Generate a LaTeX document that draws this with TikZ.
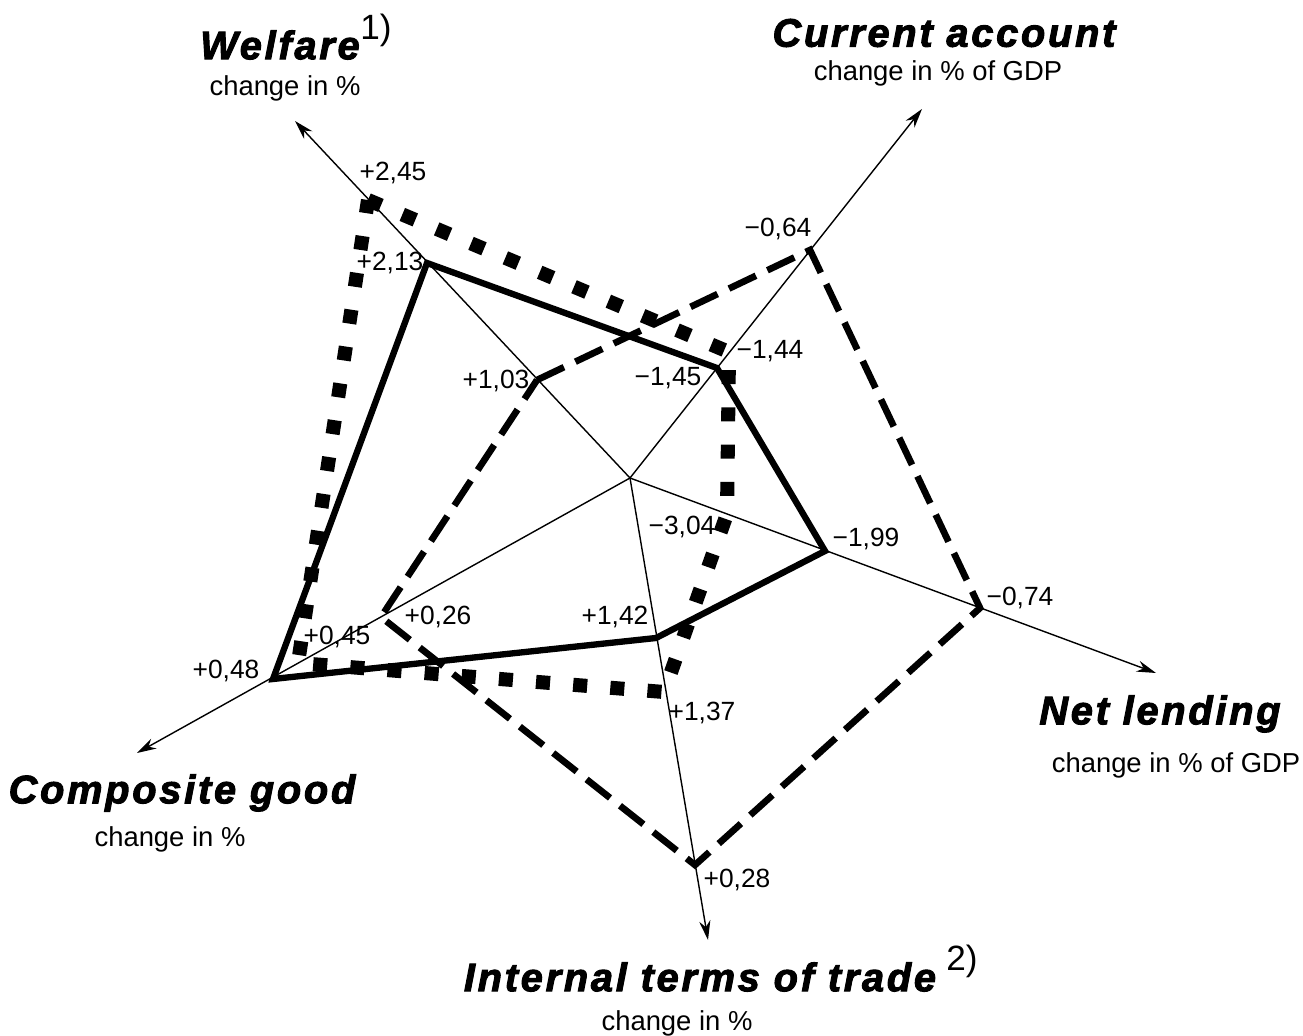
\documentclass[tikz,border=0pt]{standalone}
\usepackage{fontspec}
\setmainfont{Liberation Sans}
\newfontfamily\titlefont[FakeBold=2.5,LetterSpace=7]{Liberation Sans}
\usetikzlibrary{
    arrows.meta
}
\tikzset{
    >=Stealth,
    axis/.style={
        line width=0.4pt,
        -{Stealth[length=5.5pt,width=3.2pt]}
    },
    solidline/.style={line width=1.8pt},
    dashline/.style={line width=1.9pt, dash pattern=on 8.5pt off 3.6pt},
    dotline/.style={line width=4pt, dash pattern=on 4pt off 6.6pt},
    value/.style={font=\fontsize{7.5}{9}\selectfont, inner sep=0pt},
    title/.style={font=\titlefont\bfseries\itshape\fontsize{11.3}{13}\selectfont, inner sep=0pt},
    unit/.style={font=\fontsize{7.8}{10}\selectfont, inner sep=0pt},
    note/.style={font=\fontsize{10}{11}\selectfont, inner sep=0pt}
}

\begin{document}
\begin{tikzpicture}[x=0.1mm, y=-0.1mm]

    \useasboundingbox (0,0) rectangle (1303,1036);

    % Achsen
    \coordinate (c)  at (630,478);
    \coordinate (we) at (295,121);
    \coordinate (ca) at (922,109);
    \coordinate (nl) at (1156,673);
    \coordinate (tt) at (708,940);
    \coordinate (cg) at (137,753);

    \foreach \tip in {we,ca,nl,tt,cg}
        \draw[axis] (c) -- (\tip);

    % Werte: durchgezogen
    \coordinate (s1) at (427,263);
    \coordinate (s2) at (717,368);
    \coordinate (s3) at (825,551);
    \coordinate (s4) at (656,638);
    \coordinate (s5) at (273,679);

    % Werte: gestrichelt
    \coordinate (d1) at (537,380);
    \coordinate (d2) at (810,250);
    \coordinate (d3) at (980,608);
    \coordinate (d4) at (695,865);
    \coordinate (d5) at (381,617);

    % Werte: gepunktet
    \coordinate (p1) at (368,200);
    \coordinate (p2) at (729,352);
    \coordinate (p3) at (727,514);
    \coordinate (p4) at (664,692);
    \coordinate (p5) at (298,663);

    \draw[solidline] (s1) -- (s2) -- (s3) -- (s4) -- (s5) -- cycle;
    \draw[dashline]  (d1) -- (d2) -- (d3) -- (d4) -- (d5) -- cycle;
    \draw[dotline]   (p1) -- (p2) -- (p3) -- (p4) -- (p5) -- cycle;

    % Beschriftung der Werte
    \node[value] (v1)  at (393,173) {+2,45};
    \node[value] (v2)  at (390,263) {+2,13};
    \node[value] (v3)  at (496,381) {+1,03};
    \node[value] (v4)  at (778,229) {−0,64};
    \node[value] (v5)  at (770,351) {−1,44};
    \node[value] (v6)  at (668,378) {−1,45};
    \node[value] (v7)  at (866,539) {−1,99};
    \node[value] (v8)  at (1020,598) {−0,74};
    \node[value] (v9)  at (682,527) {−3,04};
    \node[value] (v10) at (615,617) {+1,42};
    \node[value] (v11) at (702,713) {+1,37};
    \node[value] (v12) at (737,880) {+0,28};
    \node[value] (v13) at (438,617) {+0,26};
    \node[value] (v14) at (337,637) {+0,45};
    \node[value] (v15) at (226,671) {+0,48};

    % Achsentitel
    \node[title] (twe) at (280,45)  {Welfare};
    \node[note]  at (376,30)  {1)};
    \node[unit]  (uwe) at (285,88)  {change in \%};

    \node[title] (tca) at (944,33)  {Current account};
    \node[unit]  (uca) at (938,73)  {change in \% of GDP};

    \node[title] (tnl) at (1160,714) {Net lending};
    \node[unit]  (unl) at (1176,765) {change in \% of GDP};

    \node[title] (ttt) at (700,977) {Internal terms of trade};
    \node[note]  at (962,961) {2)};
    \node[unit]  (utt) at (677,1023) {change in \%};

    \node[title] (tcg) at (182,793) {Composite good};
    \node[unit]  (ucg) at (170,839) {change in \%};

\end{tikzpicture}
\end{document}
